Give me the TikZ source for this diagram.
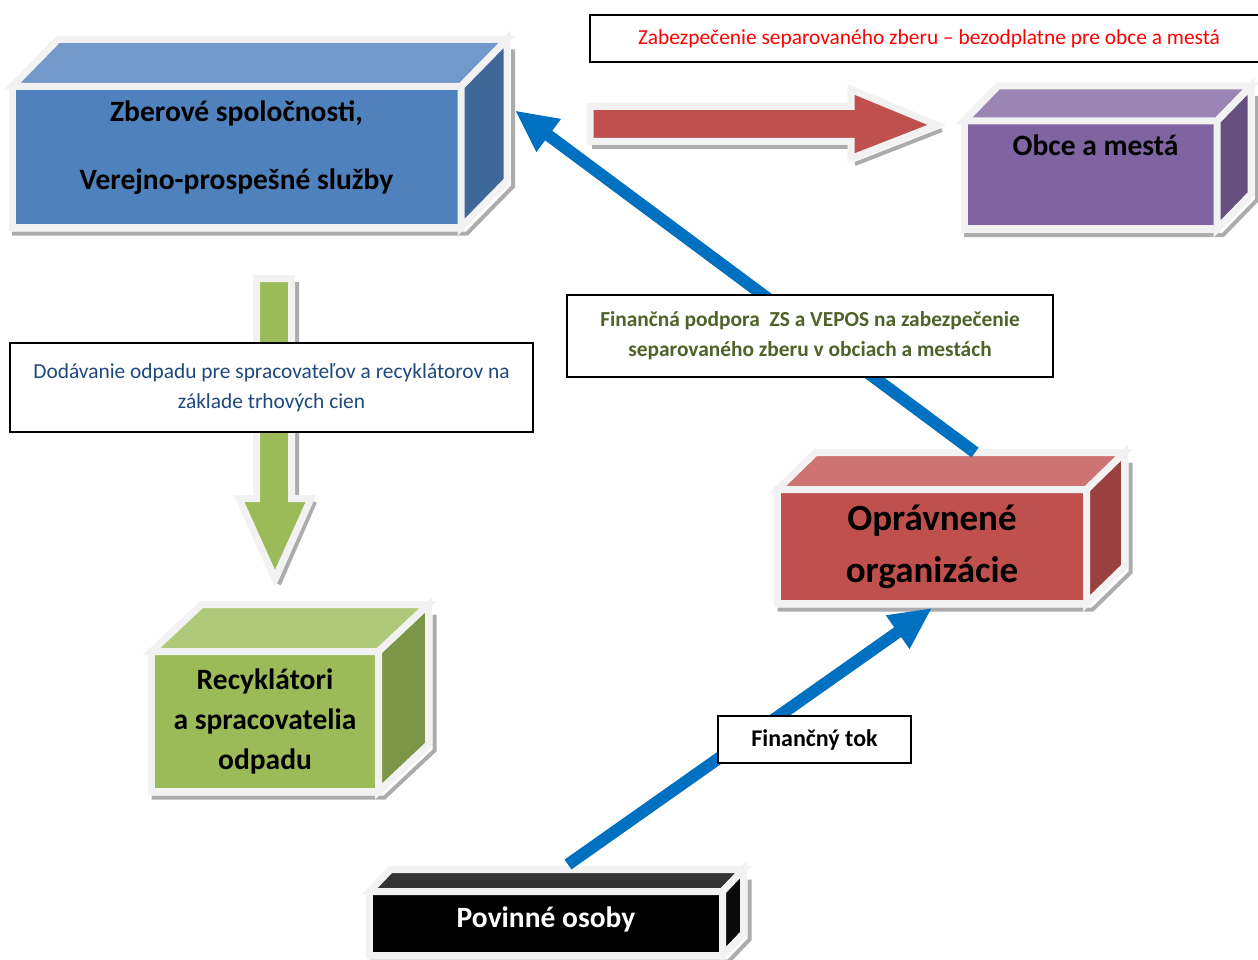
\documentclass[tikz,border=0pt]{standalone}
\usepackage{fontspec}
\setmainfont{Carlito}
\usetikzlibrary{arrows.meta,calc,backgrounds}
%
\definecolor{frame}{HTML}{F2F2F2}
\definecolor{frontzs}{HTML}{4F81BD}\definecolor{topzs}{HTML}{7299CA}\definecolor{sidezs}{HTML}{3F6797}
\definecolor{frontob}{HTML}{8064A2}\definecolor{topob}{HTML}{9B85B5}\definecolor{sideob}{HTML}{66507F}
\definecolor{frontop}{HTML}{C0504D}\definecolor{topop}{HTML}{CD7371}\definecolor{sideop}{HTML}{9A403E}
\definecolor{frontrc}{HTML}{9BBB59}\definecolor{toprc}{HTML}{AFC97A}\definecolor{siderc}{HTML}{7C9647}
\definecolor{toppv}{HTML}{333333}\definecolor{sidepv}{HTML}{0A0A0A}
\definecolor{arrowblue}{HTML}{0070C0}
\definecolor{txtred}{HTML}{FF0000}\definecolor{txtblue}{HTML}{1F497D}\definecolor{txtgreen}{HTML}{4F6228}
%
\tikzset{
  front/.style={draw=frame,line width=7pt,line join=miter,outer sep=0pt,inner sep=0pt,align=center},
  face/.style={draw=frame,line width=7pt,line join=miter},
  shadowline/.style={draw=gray!65,line width=4pt},
  boxtext/.style={font=\fontsize{29.5}{40}\selectfont\bfseries},
  txtbox/.style={draw=black,line width=2pt,fill=white,align=center,outer sep=0pt},
  bluearrow/.style={draw=arrowblue,line width=12pt,-{Triangle[length=42pt,width=38pt]}},
  blockarrow/.style={face,fill=#1}
}
\begin{document}
\begin{tikzpicture}[x=1pt,y=-1pt]
\useasboundingbox (0,0) rectangle (1258,960);
%
\node[front,fill=frontzs,minimum width=449pt,minimum height=141pt,boxtext,text depth=24pt] (zs) at (236.5,157) {Zberové spoločnosti,\\[28pt]Verejno-prospešné služby};
\node[front,fill=frontob,minimum width=253pt,minimum height=108pt,boxtext,text height=22pt,text depth=60pt] (ob) at (1090.5,175) {\hspace*{10pt}Obce a mestá};
\node[front,fill=frontop,minimum width=309pt,minimum height=114pt,font=\fontsize{37}{52}\selectfont\bfseries] (op) at (932,546.5) {Oprávnené\\organizácie};
\node[front,fill=frontrc,minimum width=227pt,minimum height=140pt,boxtext] (rc) at (265,721.5) {Recyklátori\\a spracovatelia\\odpadu};
\node[front,fill=black,text=white,minimum width=353pt,minimum height=64pt,boxtext,text height=21pt,text depth=14pt] (pv) at (546,923.5) {Povinné osoby};
%
\foreach \nm/\dx/\dy in {zs/46/-47,ob/34/-35,op/38/-37,rc/50/-47,pv/21/-22}{
  \begin{scope}[on background layer]
  \draw[shadowline] ($(\nm.south west)+(0,6)$) -- ($(\nm.south east)+(6,6)$) -- ($(\nm.south east)+(\dx+6,\dy+6)$) -- ($(\nm.north east)+(\dx+6,\dy+10)$);
  \end{scope}
  \draw[face,fill=top\nm] (\nm.north west) -- ++(\dx,\dy) -- ($(\nm.north east)+(\dx,\dy)$) -- (\nm.north east) -- cycle;
  \draw[face,fill=side\nm] (\nm.north east) -- ++(\dx,\dy) -- ($(\nm.south east)+(\dx,\dy)$) -- (\nm.south east) -- cycle;
}
%
\coordinate (rtail) at (590,124);
\coordinate (rtip) at ($(ob.west)+(-27,-50)$);
\begin{scope}[on background layer]
\draw[shadowline] (592,147) -- (855,147) (855,164) -- ($(rtip)+(5,5)$);
\end{scope}
\draw[blockarrow=frontop] ($(rtail)+(0,-17.5)$) -- ++(261,0) -- ++(0,-17) -- (rtip) -- ++(-86,33.5) -- ++(0,-17) -- ++(-261,0) -- cycle;
%
\coordinate (gtail) at (274,278.5);
\coordinate (gtip) at ($(rc.north)+(10,-73)$);
\begin{scope}[on background layer]
\draw[shadowline] (297,282) -- (297,500) (315,502) -- ($(gtip)+(4,6)$);
\end{scope}
\draw[blockarrow=frontrc] ($(gtail)+(-17.5,0)$) -- ++(0,220) -- ++(-17.5,0) -- (gtip) -- ++(36,-80) -- ++(-19.5,0) -- ++(0,-220) -- cycle;
%
\draw[bluearrow] ($(op.north)+(43,-37)$) -- ($(zs.north east)+(54,24)$);
\draw[bluearrow] ($(pv.north)+(22,-27)$) -- ($(op.south)+(0,4.5)$);
%
\node[txtbox,text=txtred,minimum width=678pt,minimum height=47pt,font=\fontsize{21.4}{30}\selectfont] (zb) at (929,38.5) {Zabezpečenie separovaného zberu – bezodplatne pre obce a mestá};
\node[txtbox,text=txtblue,minimum width=523pt,minimum height=89pt,font=\fontsize{21.4}{30}\selectfont] (dod) at (271.5,387.5) {Dodávanie odpadu pre spracovateľov a recyklátorov na\\základe trhových cien};
\node[txtbox,text=txtgreen,minimum width=486pt,minimum height=82pt,font=\fontsize{21.4}{30}\selectfont\bfseries] (fp) at (810,336) {Finančná podpora\ \ ZS a VEPOS na zabezpečenie\\separovaného zberu v obciach a mestách};
\node[txtbox,minimum width=193pt,minimum height=47pt,font=\fontsize{24}{30}\selectfont\bfseries] (ft) at (814.5,739.5) {Finančný tok};
\end{tikzpicture}
\end{document}
